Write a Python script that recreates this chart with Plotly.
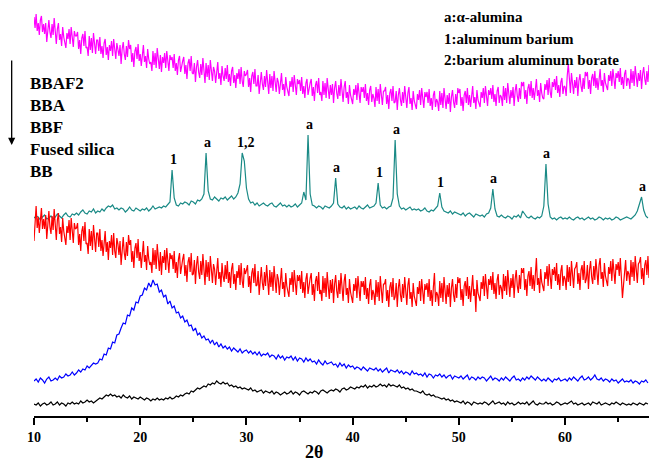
import numpy as np
import plotly.graph_objects as go

# 2-theta grids (degrees): fine 0.1 deg scans for the noisy glasses, 0.2 deg for the rest
two_theta_fine = np.round(10 + 0.1 * np.arange(580), 1)
two_theta = np.round(10 + 0.2 * np.arange(290), 1)

# Stacked intensities (a.u.); fine scans hold one row per degree
bbaf2 = [
    399, 388, 402, 385, 393, 381, 396, 400, 384, 392,
    382, 393, 374, 389, 396, 384, 378, 392, 381, 398,
    384, 372, 387, 393, 376, 382, 370, 389, 379, 374,
    368, 383, 377, 387, 372, 389, 375, 369, 385, 380,
    380, 384, 367, 376, 362, 378, 382, 370, 385, 368,
    369, 360, 380, 366, 378, 363, 383, 372, 362, 376,
    376, 365, 379, 362, 370, 358, 373, 377, 361, 369,
    356, 371, 365, 375, 360, 377, 363, 357, 373, 368,
    360, 371, 352, 367, 374, 362, 356, 370, 359, 376,
    367, 371, 354, 363, 349, 365, 369, 357, 372, 355,
    362, 350, 365, 371, 354, 360, 348, 367, 357, 352,
    354, 345, 365, 351, 363, 348, 368, 357, 347, 361,
    344, 359, 353, 363, 348, 365, 351, 345, 361, 356,
    359, 348, 362, 345, 353, 341, 356, 360, 344, 352,
    355, 359, 342, 351, 337, 353, 357, 345, 360, 343,
    342, 353, 334, 349, 356, 344, 338, 352, 341, 358,
    342, 333, 353, 339, 351, 336, 356, 345, 335, 349,
    345, 333, 348, 354, 337, 343, 331, 350, 340, 335,
    348, 337, 351, 334, 342, 330, 345, 349, 333, 341,
    328, 343, 337, 347, 332, 349, 335, 329, 345, 340,
    342, 346, 329, 338, 324, 340, 344, 332, 347, 330,
    330, 341, 322, 337, 344, 332, 326, 340, 329, 346,
    331, 322, 342, 328, 340, 325, 345, 334, 324, 338,
    334, 322, 337, 343, 326, 332, 320, 339, 329, 324,
    320, 335, 329, 339, 324, 341, 327, 321, 337, 332,
    336, 325, 339, 322, 330, 318, 333, 337, 321, 329,
    333, 337, 320, 329, 315, 331, 335, 323, 338, 321,
    324, 315, 335, 321, 333, 318, 338, 327, 317, 331,
    321, 332, 313, 328, 335, 323, 317, 331, 320, 337,
    326, 314, 329, 335, 318, 324, 312, 331, 321, 316,
    312, 327, 321, 331, 316, 333, 319, 313, 329, 324,
    329, 318, 332, 315, 323, 311, 326, 330, 314, 322,
    318, 309, 329, 315, 327, 312, 332, 321, 311, 325,
    325, 329, 312, 321, 307, 323, 327, 315, 330, 313,
    314, 325, 306, 321, 328, 316, 310, 324, 313, 330,
    320, 308, 323, 329, 312, 318, 306, 325, 315, 310,
    307, 322, 316, 326, 311, 328, 314, 308, 324, 319,
    324, 313, 327, 310, 318, 306, 321, 325, 309, 317,
    314, 305, 325, 311, 323, 308, 328, 317, 307, 321,
    312, 323, 304, 319, 326, 314, 308, 322, 311, 328,
    323, 327, 310, 319, 305, 321, 325, 313, 328, 311,
    321, 309, 324, 330, 313, 319, 307, 326, 316, 311,
    309, 324, 318, 328, 313, 330, 316, 310, 326, 321,
    328, 317, 331, 314, 322, 310, 325, 329, 313, 321,
    319, 310, 330, 316, 328, 313, 333, 322, 312, 326,
    318, 329, 310, 325, 332, 320, 314, 328, 317, 334,
    330, 334, 317, 326, 312, 328, 332, 320, 335, 318,
    328, 316, 331, 337, 320, 326, 314, 333, 323, 318,
    317, 332, 326, 336, 321, 338, 324, 318, 334, 329,
    337, 326, 340, 323, 331, 319, 334, 338, 322, 330,
    329, 320, 340, 352, 338, 323, 343, 332, 322, 336,
    328, 339, 320, 335, 342, 330, 324, 338, 327, 344,
    340, 344, 327, 336, 322, 338, 342, 330, 345, 328,
    338, 326, 341, 347, 330, 336, 324, 343, 333, 328,
    326, 341, 335, 345, 330, 347, 333, 327, 343, 338,
    345, 334, 348, 331, 339, 327, 342, 346, 330, 338,
    336, 327, 347, 333, 345, 330, 350, 339, 329, 343,
    335, 346, 327, 342, 349, 337, 331, 345, 334, 351,
]

bbf = [
    175, 192, 210, 188, 199, 183, 202, 208, 187, 197,
    187, 201, 177, 196, 205, 189, 182, 200, 186, 207,
    192, 176, 196, 203, 182, 189, 174, 198, 185, 179,
    171, 190, 183, 196, 176, 198, 180, 173, 193, 187,
    188, 193, 171, 182, 165, 185, 190, 175, 194, 172,
    173, 162, 187, 170, 185, 166, 191, 177, 164, 183,
    183, 169, 187, 165, 176, 160, 179, 185, 164, 174,
    156, 175, 168, 181, 161, 183, 165, 158, 178, 172,
    161, 175, 151, 170, 179, 163, 156, 174, 160, 181,
    171, 176, 154, 165, 148, 168, 173, 158, 177, 155,
    164, 148, 168, 175, 154, 161, 146, 170, 157, 151,
    154, 143, 168, 151, 166, 147, 172, 158, 145, 164,
    141, 160, 153, 166, 146, 168, 150, 143, 163, 157,
    161, 147, 165, 143, 154, 138, 157, 163, 142, 152,
    157, 162, 140, 151, 134, 154, 159, 144, 163, 141,
    142, 156, 132, 151, 160, 144, 137, 155, 141, 162,
    142, 131, 156, 139, 154, 135, 160, 146, 133, 152,
    147, 131, 151, 158, 137, 144, 129, 153, 140, 134,
    151, 137, 155, 133, 144, 128, 147, 153, 132, 142,
    126, 145, 138, 151, 131, 153, 135, 128, 148, 142,
    146, 151, 129, 140, 123, 143, 148, 133, 152, 130,
    131, 145, 121, 140, 149, 133, 126, 144, 130, 151,
    132, 121, 146, 129, 144, 125, 150, 136, 123, 142,
    137, 121, 141, 148, 127, 134, 119, 143, 130, 124,
    119, 138, 131, 144, 124, 146, 128, 121, 141, 135,
    141, 127, 145, 123, 134, 118, 137, 143, 122, 132,
    138, 143, 121, 132, 115, 135, 140, 125, 144, 122,
    126, 115, 140, 123, 138, 119, 144, 130, 117, 136,
    123, 137, 113, 132, 141, 125, 118, 136, 122, 143,
    131, 115, 135, 142, 121, 128, 113, 137, 124, 118,
    113, 132, 125, 138, 118, 140, 122, 115, 135, 129,
    135, 121, 139, 117, 128, 112, 131, 137, 116, 126,
    122, 111, 136, 119, 134, 115, 140, 126, 113, 132,
    132, 137, 115, 126, 109, 129, 134, 119, 138, 116,
    119, 133, 109, 128, 137, 121, 114, 132, 118, 139,
    127, 111, 131, 138, 117, 124, 109, 133, 120, 114,
    110, 129, 122, 135, 115, 137, 119, 112, 132, 126,
    133, 119, 137, 115, 126, 110, 129, 143, 114, 124,
    121, 110, 135, 118, 133, 114, 139, 125, 112, 131,
    119, 133, 109, 128, 137, 121, 114, 132, 118, 139,
    133, 138, 116, 127, 110, 130, 135, 120, 139, 117,
    130, 114, 134, 141, 120, 127, 104, 136, 123, 117,
    115, 134, 127, 140, 120, 142, 124, 117, 137, 131,
    140, 126, 144, 122, 133, 117, 136, 142, 121, 131,
    128, 117, 142, 125, 140, 121, 146, 132, 119, 138,
    128, 142, 118, 137, 146, 130, 123, 141, 127, 148,
    143, 148, 126, 137, 120, 140, 145, 130, 149, 127,
    141, 125, 145, 158, 131, 138, 123, 147, 134, 128,
    125, 144, 137, 150, 130, 152, 134, 127, 147, 141,
    149, 135, 153, 131, 142, 126, 145, 151, 130, 140,
    137, 126, 151, 134, 149, 130, 155, 141, 128, 147,
    149, 154, 132, 143, 126, 146, 151, 136, 155, 133,
    137, 151, 127, 146, 155, 139, 132, 150, 136, 157,
    147, 131, 151, 158, 137, 144, 129, 153, 140, 134,
    130, 149, 142, 155, 135, 157, 139, 132, 152, 146,
    154, 140, 158, 136, 118, 131, 150, 156, 135, 145,
    142, 131, 156, 139, 154, 135, 160, 146, 133, 152,
    154, 159, 137, 148, 131, 151, 156, 141, 160, 138,
]

# Coarse scans hold one row per 2 degrees
bba = [
    198, 200, 199, 196, 199, 201, 197, 198, 200, 197,
    199, 202, 200, 198, 201, 203, 200, 199, 202, 201,
    203, 201, 204, 206, 203, 202, 205, 204, 207, 203,
    205, 204, 207, 205, 208, 210, 209, 211, 207, 208,
    206, 208, 207, 204, 206, 209, 206, 205, 208, 206,
    205, 207, 206, 208, 205, 207, 210, 207, 208, 209,
    208, 210, 209, 212, 214, 246, 218, 211, 210, 213,
    212, 214, 213, 211, 215, 214, 212, 216, 215, 217,
    222, 263, 225, 217, 216, 219, 217, 215, 218, 217,
    219, 216, 218, 220, 217, 219, 223, 232, 263, 255,
    228, 217, 213, 214, 211, 213, 210, 212, 213, 211,
    210, 212, 213, 210, 209, 211, 213, 210, 211, 209,
    211, 209, 210, 212, 209, 211, 213, 224, 216, 281,
    222, 211, 210, 208, 210, 209, 207, 210, 209, 208,
    210, 213, 238, 212, 209, 208, 210, 207, 209, 207,
    208, 209, 207, 210, 208, 207, 209, 211, 208, 209,
    210, 213, 233, 211, 208, 209, 207, 209, 210, 218,
    276, 222, 210, 207, 208, 206, 208, 209, 206, 207,
    206, 207, 205, 206, 208, 205, 204, 206, 205, 207,
    210, 223, 209, 205, 204, 203, 205, 202, 204, 203,
    202, 201, 203, 200, 202, 203, 201, 199, 202, 201,
    200, 201, 199, 202, 203, 208, 227, 207, 200, 199,
    201, 199, 198, 200, 199, 197, 200, 199, 201, 198,
    205, 202, 199, 198, 200, 198, 197, 199, 198, 200,
    210, 252, 212, 199, 197, 198, 196, 198, 199, 197,
    198, 197, 199, 197, 196, 198, 199, 197, 198, 196,
    198, 199, 197, 198, 196, 197, 199, 198, 196, 198,
    197, 198, 196, 197, 199, 198, 196, 197, 198, 199,
    198, 197, 199, 201, 205, 212, 219, 206, 200, 198,
]

fused_silica = [
    35, 37, 34, 38, 36, 33, 37, 39, 35, 36,
    38, 36, 40, 38, 39, 42, 40, 41, 44, 41,
    43, 46, 44, 47, 46, 50, 48, 51, 53, 52,
    53, 57, 56, 62, 61, 68, 67, 74, 73, 81,
    82, 88, 93, 92, 101, 100, 108, 106, 114, 113,
    120, 121, 128, 126, 133, 129, 136, 131, 132, 124,
    126, 119, 121, 112, 115, 108, 110, 103, 104, 98,
    100, 94, 96, 90, 91, 85, 88, 81, 83, 78,
    80, 76, 77, 73, 76, 71, 74, 69, 72, 68,
    70, 67, 69, 65, 68, 66, 64, 67, 63, 65,
    66, 63, 65, 62, 64, 61, 64, 60, 62, 61,
    63, 59, 61, 60, 57, 61, 58, 60, 56, 59,
    58, 60, 56, 59, 55, 58, 57, 54, 58, 55,
    57, 54, 55, 52, 56, 53, 51, 55, 52, 53,
    54, 51, 52, 49, 53, 50, 52, 48, 51, 49,
    50, 47, 49, 48, 46, 49, 47, 45, 48, 47,
    46, 48, 45, 47, 44, 46, 48, 43, 46, 45,
    44, 46, 43, 45, 42, 44, 43, 41, 45, 42,
    43, 41, 42, 40, 43, 39, 42, 41, 38, 41,
    40, 42, 39, 41, 38, 40, 41, 37, 40, 39,
    38, 40, 37, 39, 41, 36, 39, 38, 36, 39,
    37, 39, 38, 35, 38, 40, 36, 38, 37, 35,
    38, 36, 39, 37, 35, 38, 40, 36, 37, 35,
    38, 36, 39, 37, 40, 38, 36, 39, 37, 35,
    37, 35, 38, 36, 34, 37, 36, 38, 35, 36,
    37, 35, 38, 36, 39, 37, 35, 38, 40, 36,
    37, 39, 36, 38, 41, 37, 36, 38, 35, 37,
    36, 34, 37, 35, 36, 33, 35, 37, 34, 35,
    34, 36, 33, 35, 34, 32, 35, 34, 36, 33,
]

bb = [
    12, 11, 13, 10, 12, 13, 11, 12, 14, 11,
    12, 14, 11, 13, 12, 10, 13, 12, 14, 12,
    13, 12, 15, 13, 14, 16, 14, 15, 13, 15,
    16, 18, 17, 19, 21, 20, 22, 20, 21, 19,
    20, 18, 21, 19, 18, 20, 17, 19, 18, 17,
    19, 17, 16, 18, 17, 15, 17, 16, 18, 16,
    17, 16, 18, 17, 19, 17, 18, 20, 19, 21,
    20, 22, 23, 22, 25, 24, 26, 28, 27, 29,
    30, 29, 32, 31, 33, 32, 35, 33, 32, 34,
    32, 33, 30, 31, 29, 30, 28, 29, 27, 28,
    27, 26, 28, 25, 26, 24, 25, 26, 23, 25,
    24, 23, 25, 22, 24, 23, 21, 23, 24, 22,
    23, 25, 22, 24, 23, 21, 24, 25, 23, 22,
    24, 23, 25, 24, 22, 25, 26, 24, 23, 25,
    26, 25, 27, 26, 24, 27, 28, 26, 27, 29,
    28, 27, 29, 28, 30, 29, 31, 28, 30, 29,
    31, 29, 30, 32, 30, 31, 29, 32, 30, 31,
    30, 29, 31, 28, 29, 27, 28, 26, 27, 25,
    25, 24, 23, 25, 22, 21, 22, 20, 21, 19,
    19, 18, 17, 18, 16, 17, 15, 16, 14, 15,
    14, 13, 15, 12, 14, 13, 11, 14, 13, 12,
    13, 12, 14, 13, 11, 13, 15, 12, 13, 14,
    12, 13, 11, 14, 12, 13, 11, 12, 14, 12,
    13, 12, 14, 11, 13, 15, 12, 11, 13, 12,
    12, 14, 12, 13, 11, 12, 14, 13, 11, 12,
    13, 12, 14, 15, 12, 13, 11, 12, 13, 11,
    12, 13, 11, 14, 13, 12, 14, 11, 12, 13,
    12, 11, 13, 12, 14, 12, 11, 13, 12, 11,
    12, 11, 13, 12, 11, 13, 12, 11, 13, 12,
]

sample_names = ["BBAF2", "BBA", "BBF", "Fused silica", "BB"]
sample_colors = ["#FF00FF", "#1A8A86", "#FF0000", "#0000FF", "#000000"]
sample_data = [(two_theta_fine, bbaf2), (two_theta, bba), (two_theta_fine, bbf),
               (two_theta, fused_silica), (two_theta, bb)]

# Indexed reflections of the BBA pattern
peak_2theta = [23.0, 26.2, 29.6, 35.8, 38.4, 42.4, 44.0, 48.2, 53.2, 58.2, 67.2]
peak_tags = ["1", "a", "1,2", "a", "a", "1", "a", "1", "a", "a", "a"]

phase_key = ["a:\u03b1-alumina", "1:aluminum barium", "2:barium aluminum borate"]

SERIF = "Liberation Serif, Times New Roman, serif"

fig = go.Figure()
for name, (xs, ys), col in zip(sample_names, sample_data, sample_colors):
    fig.add_trace(go.Scatter(x=xs, y=ys, mode="lines", name=name,
                             line=dict(color=col, width=1.2)))

annotations = []
# peak tags above BBA reflections
for pos, tag in zip(peak_2theta, peak_tags):
    idx = int(round((pos - 10) / 0.2))
    annotations.append(dict(x=pos, y=bba[idx], xref="x", yref="y", text=tag,
                            showarrow=False, yanchor="bottom", yshift=1,
                            xshift=4 if tag == "1,2" else 1,
                            font=dict(family=SERIF, size=14, color="black", weight="bold")))

# sample list (top to bottom order of the curves)
for k, name in enumerate(sample_names):
    annotations.append(dict(x=-0.009, y=333 - 22 * k, xref="paper", yref="y", text=name,
                            showarrow=False, xanchor="left", yanchor="middle",
                            font=dict(family=SERIF, size=17, color="black", weight="bold")))

# phase key
for k, line in enumerate(phase_key):
    annotations.append(dict(x=0.663, y=399 - 21.5 * k, xref="paper", yref="y", text=line,
                            showarrow=False, xanchor="left", yanchor="middle",
                            font=dict(family=SERIF, size=15, color="black", weight="bold")))

# downward arrow beside the sample list
annotations.append(dict(x=-0.0363, y=271, xref="paper", yref="y", text="",
                        showarrow=True, ax=0, ay=-86, arrowhead=2, arrowsize=1.1,
                        arrowwidth=1.3, arrowcolor="black"))

# axis title
annotations.append(dict(x=0.456, y=-0.087, xref="paper", yref="paper", text="2\u03b8",
                        showarrow=False, xanchor="center", yanchor="middle",
                        font=dict(family=SERIF, size=18, color="black", weight="bold")))

fig.update_layout(
    width=649, height=463,
    margin=dict(l=34, r=0, t=0, b=47),
    paper_bgcolor="white", plot_bgcolor="white",
    showlegend=False,
    annotations=annotations,
    xaxis=dict(range=[10, 67.9], showgrid=False, zeroline=False,
               showline=True, linecolor="black", linewidth=1.5,
               ticks="outside", ticklen=7, tickwidth=1.5, tickcolor="black",
               tick0=10, dtick=10,
               minor=dict(ticks="outside", ticklen=4, tickwidth=1.5, tickcolor="black", dtick=5),
               tickfont=dict(family=SERIF, size=14, color="black", weight="bold")),
    yaxis=dict(range=[0, 416], visible=False),
)

fig.write_html("out.html")
